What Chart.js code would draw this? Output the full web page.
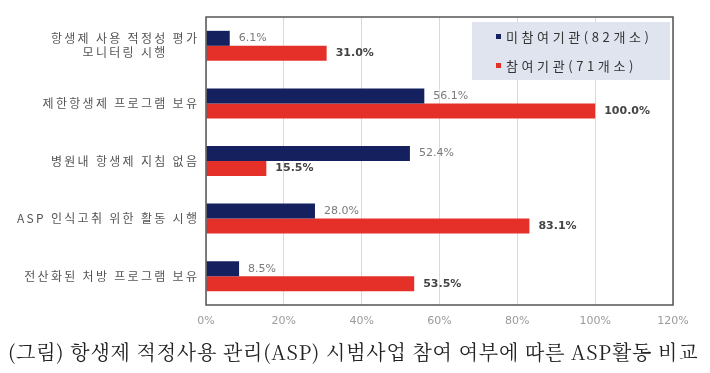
<!DOCTYPE html>
<html>
<head>
<meta charset="utf-8">
<script src="https://cdn.jsdelivr.net/npm/chart.js@4"></script>
<style>
  body { margin: 0; background: #fff; }
  #wrap { position: relative; width: 710px; height: 373px; }
  #caption {
    position: absolute; left: 8px; top: 337px; width: 702px;
    font-family: "Noto Serif CJK KR", "DejaVu Serif", "Noto Sans CJK KR", serif;
    font-size: 20px; letter-spacing: 0.8px; color: #222; white-space: nowrap;
  }
</style>
</head>
<body>
<div id="wrap">
  <canvas id="aspChart" width="710" height="373"></canvas>
  <div id="caption">(그림) 항생제 적정사용 관리(ASP) 시범사업 참여 여부에 따른 ASP활동 비교</div>
</div>
<script>
// categories (top to bottom)
const activities = [
  ['항생제 사용 적정성 평가', '모니터링 시행'],
  '제한항생제 프로그램 보유',
  '병원내 항생제 지침 없음',
  'ASP 인식고취 위한 활동 시행',
  '전산화된 처방 프로그램 보유'
];

// series values (%)
const nonParticipating = [6.1, 56.1, 52.4, 28.0, 8.5];
const participating = [31.0, 100.0, 15.5, 83.1, 53.5];

const seriesNames = ['미참여기관(82개소)', '참여기관(71개소)'];
const seriesColors = ['#15205f', '#e5302a'];

// x axis tick values
const xTicks = [0, 20, 40, 60, 80, 100, 120];

// category labels, value labels, frame and legend box
const extrasPlugin = {
  id: 'extras',
  afterDatasetsDraw(chart) {
    const ctx = chart.ctx;
    const area = chart.chartArea;
    const yScale = chart.scales.y;
    ctx.save();
    ctx.textBaseline = 'middle';

    // category labels (letter-spaced, multi-line block centered)
    ctx.font = '12px "Noto Sans CJK KR", sans-serif';
    ctx.letterSpacing = '2.3px';
    ctx.fillStyle = '#555';
    ctx.textAlign = 'center';
    chart.data.labels.forEach((label, i) => {
      const lines = Array.isArray(label) ? label : [label];
      const widths = lines.map(t => ctx.measureText(t).width - 2.3);
      const blockW = Math.max(...widths);
      const cx = area.left - 9 - blockW / 2;
      const cy = yScale.getPixelForTick(i);
      lines.forEach((t, k) => {
        ctx.fillText(t, cx + 1.15, cy + (k - (lines.length - 1) / 2) * 14);
      });
    });
    ctx.letterSpacing = '0px';

    // value labels
    ctx.textAlign = 'left';
    chart.data.datasets.forEach((ds, i) => {
      const meta = chart.getDatasetMeta(i);
      ctx.font = (i === 1 ? 'bold ' : '') + '11px "DejaVu Sans", sans-serif';
      ctx.fillStyle = i === 1 ? '#444' : '#7a7a7a';
      meta.data.forEach((bar, j) => {
        ctx.fillText(ds.data[j].toFixed(1) + '%', bar.x + 9, bar.y);
      });
    });

    // plot frame
    ctx.strokeStyle = '#555';
    ctx.lineWidth = 1.5;
    ctx.strokeRect(area.left, area.top, area.right - area.left, area.bottom - area.top);

    // legend box
    const lx = 472, ly = 22, lw = 198, lh = 58;
    ctx.fillStyle = '#dfe4ef';
    ctx.fillRect(lx, ly, lw, lh);
    ctx.font = '13px "Noto Sans CJK KR", sans-serif';
    ctx.letterSpacing = '3.6px';
    chart.data.datasets.forEach((ds, i) => {
      const y = ly + 15 + i * 29;
      ctx.fillStyle = ds.backgroundColor;
      ctx.fillRect(lx + 24, y - 3, 5, 5);
      ctx.fillStyle = '#333';
      ctx.fillText(ds.label, lx + 34, y);
    });
    ctx.restore();
  }
};

new Chart(document.getElementById('aspChart'), {
  type: 'bar',
  data: {
    labels: activities,
    datasets: [
      { label: seriesNames[0], data: nonParticipating, backgroundColor: seriesColors[0] },
      { label: seriesNames[1], data: participating, backgroundColor: seriesColors[1] }
    ]
  },
  options: {
    indexAxis: 'y',
    responsive: false,
    animation: false,
    categoryPercentage: 0.52,
    barPercentage: 1.0,
    layout: { padding: { left: 0, right: 37, top: 17, bottom: 40 } },
    plugins: {
      legend: { display: false },
      tooltip: { enabled: false }
    },
    scales: {
      x: {
        min: 0,
        max: 120,
        afterBuildTicks(scale) {
          scale.ticks = xTicks.map(v => ({ value: v }));
        },
        afterFit(scale) { scale.height = 28; },
        grid: { color: '#d9d9d9', drawTicks: false },
        border: { display: false },
        ticks: {
          padding: 10,
          color: '#9a9a9a',
          font: { family: 'DejaVu Sans', size: 11 },
          callback: v => v + '%'
        }
      },
      y: {
        afterFit(scale) { scale.width = 206; },
        grid: { display: false, drawTicks: false },
        border: { display: false },
        ticks: { display: false }
      }
    }
  },
  plugins: [extrasPlugin]
});
</script>
</body>
</html>
